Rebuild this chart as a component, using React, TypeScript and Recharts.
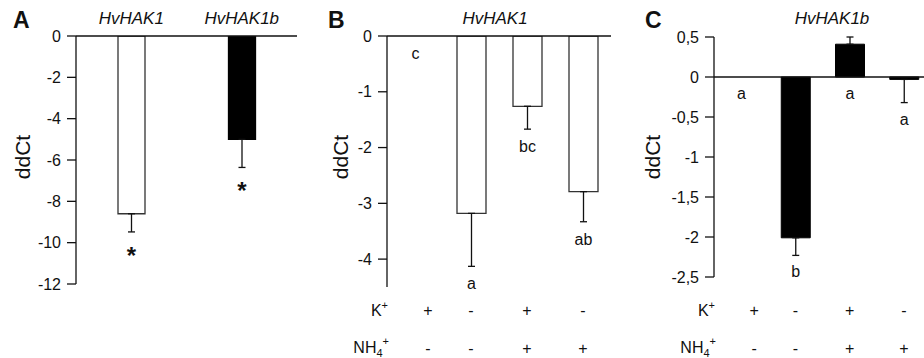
import React from 'react';
import { BarChart, Bar, XAxis, YAxis, ErrorBar, ReferenceLine, LabelList, Cell } from 'recharts';

const FONT = '"Liberation Sans", Arial, Helvetica, sans-serif';
const INK = '#111';

// ---------- Panel A ----------
const genesA = ['HvHAK1', 'HvHAK1b'];
const ddctA = [-8.6, -5.0];
const semA = [0.88, 1.36];
const sigA = ['*', '*'];
const fillA = ['#ffffff', '#000000'];
const ticksA = [0, -2, -4, -6, -8, -10, -12];

// ---------- Panels B and C (treatments) ----------
const kPlus = ['+', '-', '+', '-'];
const nh4Plus = ['-', '-', '+', '+'];
const treatments = ['K+ NH4-', 'K- NH4-', 'K+ NH4+', 'K- NH4+'];

const ddctB = [0, -3.18, -1.26, -2.79];
const semB = [0, 0.95, 0.41, 0.54];
const sigB = ['c', 'a', 'bc', 'ab'];
const ticksB = [0, -1, -2, -3, -4];

const ddctC = [0, -2.01, 0.41, -0.03];
const semC = [0, 0.22, 0.09, 0.29];
const sigC = ['a', 'b', 'a', 'a'];
const ticksC = [0.5, 0, -0.5, -1, -1.5, -2, -2.5];

const EPS = 0.0005;

const buildRows = (cats: string[], vals: number[], sems: number[], sig: string[]) =>
  cats.map((c, i) => {
    const v = vals[i];
    const e = sems[i];
    const err = v > 0 ? [0, e] : [e, 0];
    const low = Math.min(0, v - err[0]);
    // thin range used only to anchor the significance letter under the lowest point
    return { cat: c, v, err, anchor: [low, low - EPS], sig: sig[i] };
  });

const rowsA = buildRows(genesA, ddctA, semA, sigA);
const rowsB = buildRows(treatments, ddctB, semB, sigB);
const rowsC = buildRows(treatments, ddctC, semC, sigC);

const sigContent = (gap: number, fontSize: number, bold: boolean) => (props: any) => {
  const x = Number(props.x);
  const y = Number(props.y);
  const w = Number(props.width);
  const h = Number(props.height) || 0;
  const bottom = Math.max(y, y + h);
  return (
    <text
      x={x + w / 2}
      y={bottom + gap}
      textAnchor="middle"
      fontSize={fontSize}
      fontWeight={bold ? 'bold' : 'normal'}
      fill={INK}
      fontFamily={FONT}
    >
      {props.value}
    </text>
  );
};

const decor = (letter: string, letterX: number, ddctX: number, title?: string, titleX?: number) => () => (
  <g fontFamily={FONT} fill={INK}>
    <text x={letterX} y={28} fontSize={23} fontWeight="bold">
      {letter}
    </text>
    <text transform={`translate(${ddctX},157) rotate(-90)`} textAnchor="middle" fontSize={21}>
      ddCt
    </text>
    {title ? (
      <text x={titleX} y={24} textAnchor="middle" fontSize={17} fontStyle="italic">
        {title}
      </text>
    ) : null}
  </g>
);

const topTick = (props: any) => (
  <text
    x={Number(props.x)}
    y={24}
    textAnchor="middle"
    fontSize={17}
    fontStyle="italic"
    fill={INK}
    fontFamily={FONT}
  >
    {props.payload.value}
  </text>
);

const signTick = (axisX: number) => (props: any) => {
  const index = Number(props.index);
  const cx = Number(props.x) + (index === 0 ? 13 : 0);
  return (
    <g fontFamily={FONT} fontSize={16} fill={INK}>
      <text x={cx} y={316} textAnchor="middle">
        {kPlus[index]}
      </text>
      <text x={cx} y={354} textAnchor="middle">
        {nh4Plus[index]}
      </text>
      {index === 0 ? (
        <g>
          <text x={axisX + 1} y={316} textAnchor="end">
            K<tspan fontSize={11} dy={-7}>+</tspan>
          </text>
          <text x={axisX + 2} y={353} textAnchor="end">
            NH<tspan fontSize={11} dy={4}>4</tspan>
            <tspan fontSize={11} dy={-12}>+</tspan>
          </text>
        </g>
      ) : null}
    </g>
  );
};

const axisStyle = { stroke: INK, strokeWidth: 1.3 };
const tickStyle = { fill: INK, fontSize: 16, fontFamily: FONT };
const commaFmt = (v: number) => String(v).replace('.', ',');

export default function App() {
  return (
    <div
      style={{
        position: 'absolute',
        left: 0,
        top: 0,
        width: 924,
        height: 358,
        background: '#fff',
        overflow: 'hidden',
        fontFamily: FONT,
      }}
    >
      {/* Panel A */}
      <div style={{ position: 'absolute', left: 0, top: 0 }}>
        <BarChart width={300} height={300} data={rowsA} margin={{ top: 0, right: 3, bottom: 16, left: 0 }}>
          <XAxis
            xAxisId="top"
            dataKey="cat"
            orientation="top"
            height={36}
            axisLine={false}
            tickLine={false}
            tick={topTick}
            interval={0}
          />
          <XAxis xAxisId="lab" dataKey="cat" hide />
          <YAxis
            domain={[-12, 0]}
            ticks={ticksA}
            interval={0}
            width={76}
            tickSize={9}
            tickMargin={6}
            axisLine={axisStyle}
            tickLine={axisStyle}
            tick={tickStyle}
            allowDataOverflow
            label={decor('A', 13, 30)}
          />
          <Bar xAxisId="top" dataKey="v" barSize={27} isAnimationActive={false} strokeWidth={1.3}>
            {rowsA.map((r, i) => (
              <Cell key={r.cat} fill={fillA[i]} stroke={i === 0 ? '#333' : '#000'} />
            ))}
            <ErrorBar dataKey="err" width={3.5} stroke={INK} strokeWidth={1.3} direction="y" />
          </Bar>
          <Bar xAxisId="lab" dataKey="anchor" barSize={27} fill="none" stroke="none" isAnimationActive={false}>
            <LabelList dataKey="sig" content={sigContent(32, 24, true)} />
          </Bar>
          <ReferenceLine xAxisId="top" y={0} stroke={INK} strokeWidth={1.3} />
        </BarChart>
      </div>

      {/* Panel B */}
      <div style={{ position: 'absolute', left: 300, top: 0 }}>
        <BarChart width={313} height={358} data={rowsB} margin={{ top: 36, right: 2, bottom: 0, left: 0 }}>
          <XAxis
            xAxisId="bot"
            dataKey="cat"
            orientation="bottom"
            height={71}
            axisLine={false}
            tickLine={false}
            tick={signTick(87)}
            interval={0}
          />
          <XAxis xAxisId="lab" dataKey="cat" hide />
          <YAxis
            domain={[-4.5, 0]}
            ticks={ticksB}
            interval={0}
            width={87}
            tickSize={9}
            tickMargin={6}
            axisLine={axisStyle}
            tickLine={axisStyle}
            tick={tickStyle}
            allowDataOverflow
            label={decor('B', 28, 48, 'HvHAK1', 195)}
          />
          <Bar
            xAxisId="bot"
            dataKey="v"
            barSize={29}
            fill="#ffffff"
            stroke="#333"
            strokeWidth={1.3}
            isAnimationActive={false}
          >
            <ErrorBar dataKey="err" width={3.5} stroke={INK} strokeWidth={1.3} direction="y" />
          </Bar>
          <Bar xAxisId="lab" dataKey="anchor" barSize={29} fill="none" stroke="none" isAnimationActive={false}>
            <LabelList dataKey="sig" content={sigContent(23, 16, false)} />
          </Bar>
          <ReferenceLine xAxisId="bot" y={0} stroke={INK} strokeWidth={1.3} />
        </BarChart>
      </div>

      {/* Panel C */}
      <div style={{ position: 'absolute', left: 620, top: 0, width: 304, height: 358, overflow: 'hidden' }}>
        <BarChart width={311} height={358} data={rowsC} margin={{ top: 37, right: 0, bottom: 0, left: 0 }}>
          <XAxis
            xAxisId="bot"
            dataKey="cat"
            orientation="bottom"
            height={81}
            axisLine={false}
            tickLine={false}
            tick={signTick(94)}
            interval={0}
          />
          <XAxis xAxisId="lab" dataKey="cat" hide />
          <YAxis
            domain={[-2.5, 0.5]}
            ticks={ticksC}
            interval={0}
            width={94}
            tickSize={9}
            tickMargin={6}
            axisLine={axisStyle}
            tickLine={axisStyle}
            tick={tickStyle}
            tickFormatter={commaFmt}
            allowDataOverflow
            label={decor('C', 25, 40, 'HvHAK1b', 212)}
          />
          <Bar
            xAxisId="bot"
            dataKey="v"
            barSize={29}
            fill="#000000"
            stroke="#000"
            strokeWidth={1}
            isAnimationActive={false}
          >
            <ErrorBar dataKey="err" width={3.5} stroke={INK} strokeWidth={1.3} direction="y" />
          </Bar>
          <Bar xAxisId="lab" dataKey="anchor" barSize={29} fill="none" stroke="none" isAnimationActive={false}>
            <LabelList dataKey="sig" content={sigContent(22, 16, false)} />
          </Bar>
          <ReferenceLine xAxisId="bot" y={0} stroke={INK} strokeWidth={1.3} />
        </BarChart>
      </div>
    </div>
  );
}
